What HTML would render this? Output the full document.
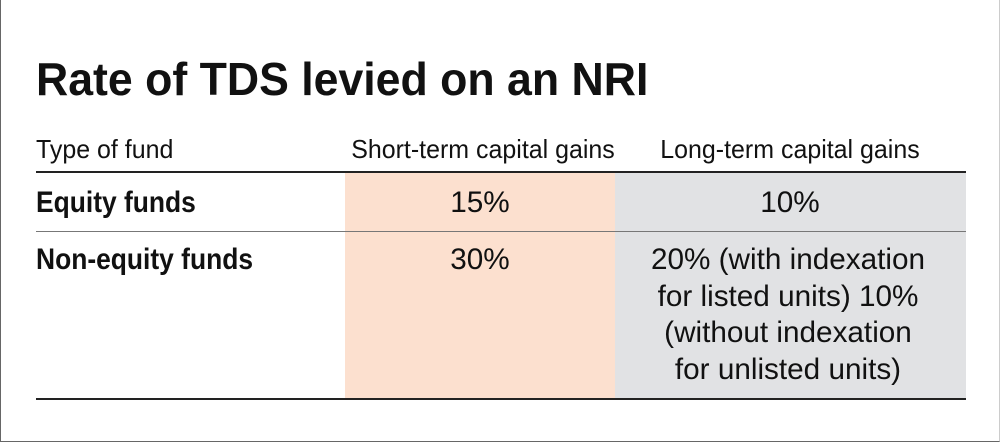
<!DOCTYPE html>
<html><head><style>
html,body{margin:0;padding:0;background:#fff;}
#c{position:relative;width:1000px;height:443px;overflow:hidden;font-family:"Liberation Sans",sans-serif;color:#111;}
.t{position:absolute;white-space:nowrap;line-height:1;}
.l{transform-origin:left center;}
.m{width:1000px;text-align:center;transform-origin:center center;}
.h{font-size:26px;transform:scaleX(0.96);}
.b{font-size:30px;font-weight:bold;transform:scaleX(0.88);}
.v{font-size:30px;transform:scaleX(0.99);}
</style></head><body>
<div id="c">
<div style="position:absolute;left:0;top:0;width:998px;height:441px;border:1px solid #666;border-top:none;border-right:1px solid #ccc;"></div>
<div style="position:absolute;left:345px;top:173px;width:270px;height:226px;background:#fce0cf;"></div>
<div style="position:absolute;left:615px;top:173px;width:351px;height:226px;background:#e1e2e4;"></div>
<div style="position:absolute;left:36px;top:171px;width:930px;height:2px;background:#222;"></div>
<div style="position:absolute;left:36px;top:231px;width:930px;height:1px;background:#777;"></div>
<div style="position:absolute;left:36px;top:398px;width:930px;height:2px;background:#222;"></div>

<div class="t l" style="left:36px;top:56px;font-size:46px;font-weight:bold;transform:scaleX(0.97);">Rate of TDS levied on an NRI</div>

<div class="t l h" style="left:36px;top:136px;">Type of fund</div>
<div class="t m h" style="left:-17px;top:136px;">Short-term capital gains</div>
<div class="t m h" style="left:290px;top:136px;">Long-term capital gains</div>

<div class="t l b" style="left:36px;top:188px;">Equity funds</div>
<div class="t l b" style="left:36px;top:245px;">Non-equity funds</div>

<div class="t m v" style="left:-20px;top:188px;">15%</div>
<div class="t m v" style="left:290px;top:188px;">10%</div>
<div class="t m v" style="left:-20px;top:245px;">30%</div>
<div class="t m v" style="left:288px;top:245px;">20% (with indexation</div>
<div class="t m v" style="left:288px;top:282px;">for listed units) 10%</div>
<div class="t m v" style="left:288px;top:318px;">(without indexation</div>
<div class="t m v" style="left:288px;top:355px;">for unlisted units)</div>
</div>
</body></html>
